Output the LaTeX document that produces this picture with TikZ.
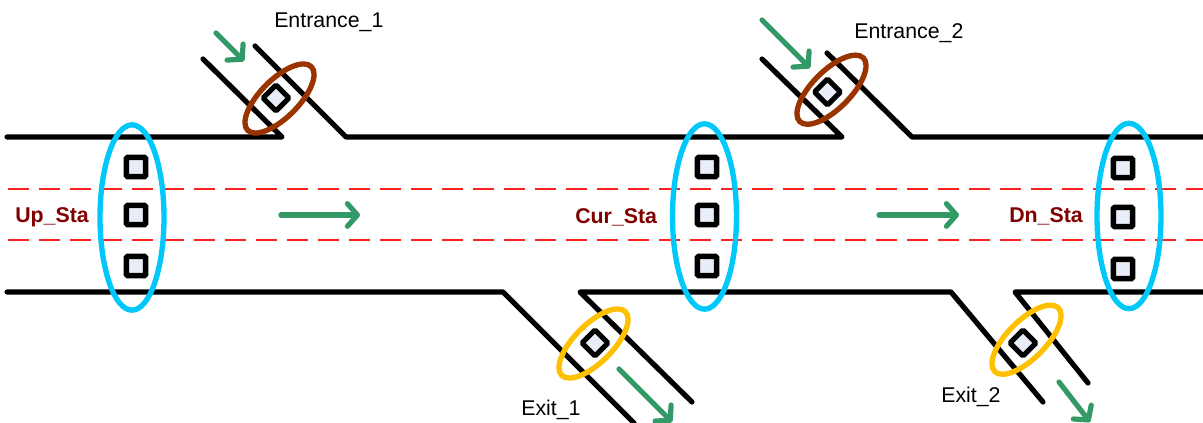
\documentclass[tikz,border=0pt]{standalone}
\usepackage{fontspec}
\setmainfont{Liberation Sans}
\definecolor{roadgreen}{HTML}{339966}
\definecolor{skyring}{HTML}{00C8FA}
\definecolor{brownring}{HTML}{993300}
\definecolor{goldring}{HTML}{FFC000}
\definecolor{sensorfill}{HTML}{E8EDF7}
\definecolor{stalabel}{HTML}{800000}
\definecolor{lanered}{HTML}{FF2020}
\usetikzlibrary{shapes.geometric,arrows.meta}
\tikzset{
 road/.style={line width=3.9pt,line cap=round,line join=round,black},
 lane/.style={line width=1pt,lanered,dash pattern=on 15.5pt off 7.75pt},
 flow/.style={line width=3.9pt,line cap=round,line join=round,roadgreen,-{Straight Barb[length=7.5pt,width=17pt,line width=3.9pt,round]}},
 sensor/.style={draw=black,fill=sensorfill,line width=4.2pt,rounded corners=1pt,minimum size=14.5pt,inner sep=0pt},
 dsensor/.style={sensor,rotate=45,minimum size=13.8pt,line width=3.9pt},
 ring/.style={draw,line width=4pt,ellipse,inner sep=0pt},
 vring/.style={ring,draw=skyring,minimum width=48pt,minimum height=139pt},
 dring/.style={ring,rotate=45,minimum width=67.5pt,minimum height=28.5pt},
 lab/.style={font=\fontsize{16}{16}\selectfont,inner sep=0pt,text=black},
 stalab/.style={font=\fontsize{16}{16}\selectfont\bfseries,inner sep=0pt,text=stalabel},
}
\begin{document}
\begin{tikzpicture}[x=0.75pt,y=-0.75pt]
\useasboundingbox (0,0) rectangle (1203,423);
% lane lines
\draw[lane] (8,189) -- (1203,189);
\draw[lane] (8,240) -- (1203,240);
% road edges
\draw[road] (7,137) -- (282,137) -- (203,59);
\draw[road] (255,46) -- (346,137) -- (842,137) -- (762,59);
\draw[road] (827,53) -- (912,137) -- (1203,137);
\draw[road] (7,292) -- (503,292) -- (634,423);
\draw[road] (692,402) -- (580,292) -- (951,292) -- (1043,402);
\draw[road] (1088,383) -- (1015,292) -- (1203,292);
% sensors
\node[sensor] (u1) at (136,167) {};
\node[sensor] (u2) at (136,215) {};
\node[sensor] (u3) at (136,266) {};
\node[sensor] (c1) at (707,167) {};
\node[sensor] (c2) at (707,215) {};
\node[sensor] (c3) at (707,266) {};
\node[sensor] (d1) at (1123,168) {};
\node[sensor] (d2) at (1123,217) {};
\node[sensor] (d3) at (1123,269) {};
\node[dsensor] (en1) at (276,98) {};
\node[dsensor] (en2) at (827.5,92) {};
\node[dsensor] (ex1) at (595,343) {};
\node[dsensor] (ex2) at (1023,343) {};
% rings
\node[vring] (ru) at (132,217.5) {};
\node[vring] (rc) at (704.5,216.5) {};
\node[vring] (rd) at (1129,216) {};
\node[dring,draw=brownring] (re1) at (279.5,98.5) {};
\node[dring,draw=brownring] (re2) at (831.5,89.7) {};
\node[dring,draw=goldring] (rx1) at (593.5,343.5) {};
\node[dring,draw=goldring] (rx2) at (1026.5,339.7) {};
% flow arrows
\coordinate (a1s) at (216,33); \coordinate (a1e) at (244,61);
\coordinate (a2s) at (762,20); \coordinate (a2e) at (810,68);
\coordinate (a3s) at (281,215); \coordinate (a3e) at (360,215);
\coordinate (a4s) at (879,215); \coordinate (a4e) at (959,215);
\coordinate (a5s) at (619,369); \coordinate (a5e) at (672,422);
\coordinate (a6s) at (1059,382); \coordinate (a6e) at (1090,422);
\draw[flow] (a1s) -- (a1e);
\draw[flow] (a2s) -- (a2e);
\draw[flow] (a3s) -- (a3e);
\draw[flow] (a4s) -- (a4e);
\draw[flow] (a5s) -- (a5e);
\draw[flow] (a6s) -- (a6e);
% labels
\node[lab,anchor=west] (len1) at (274,22) {Entrance\_1};
\node[lab,anchor=west] (len2) at (854,33) {Entrance\_2};
\node[lab,anchor=west] (lex1) at (521,410) {Exit\_1};
\node[lab,anchor=west] (lex2) at (941,397) {Exit\_2};
\node[stalab,anchor=west] (lu) at (15,217) {Up\_Sta};
\node[stalab,anchor=west] (lc) at (575,217) {Cur\_Sta};
\node[stalab,anchor=west] (ld) at (1009,216) {Dn\_Sta};
\end{tikzpicture}
\end{document}
